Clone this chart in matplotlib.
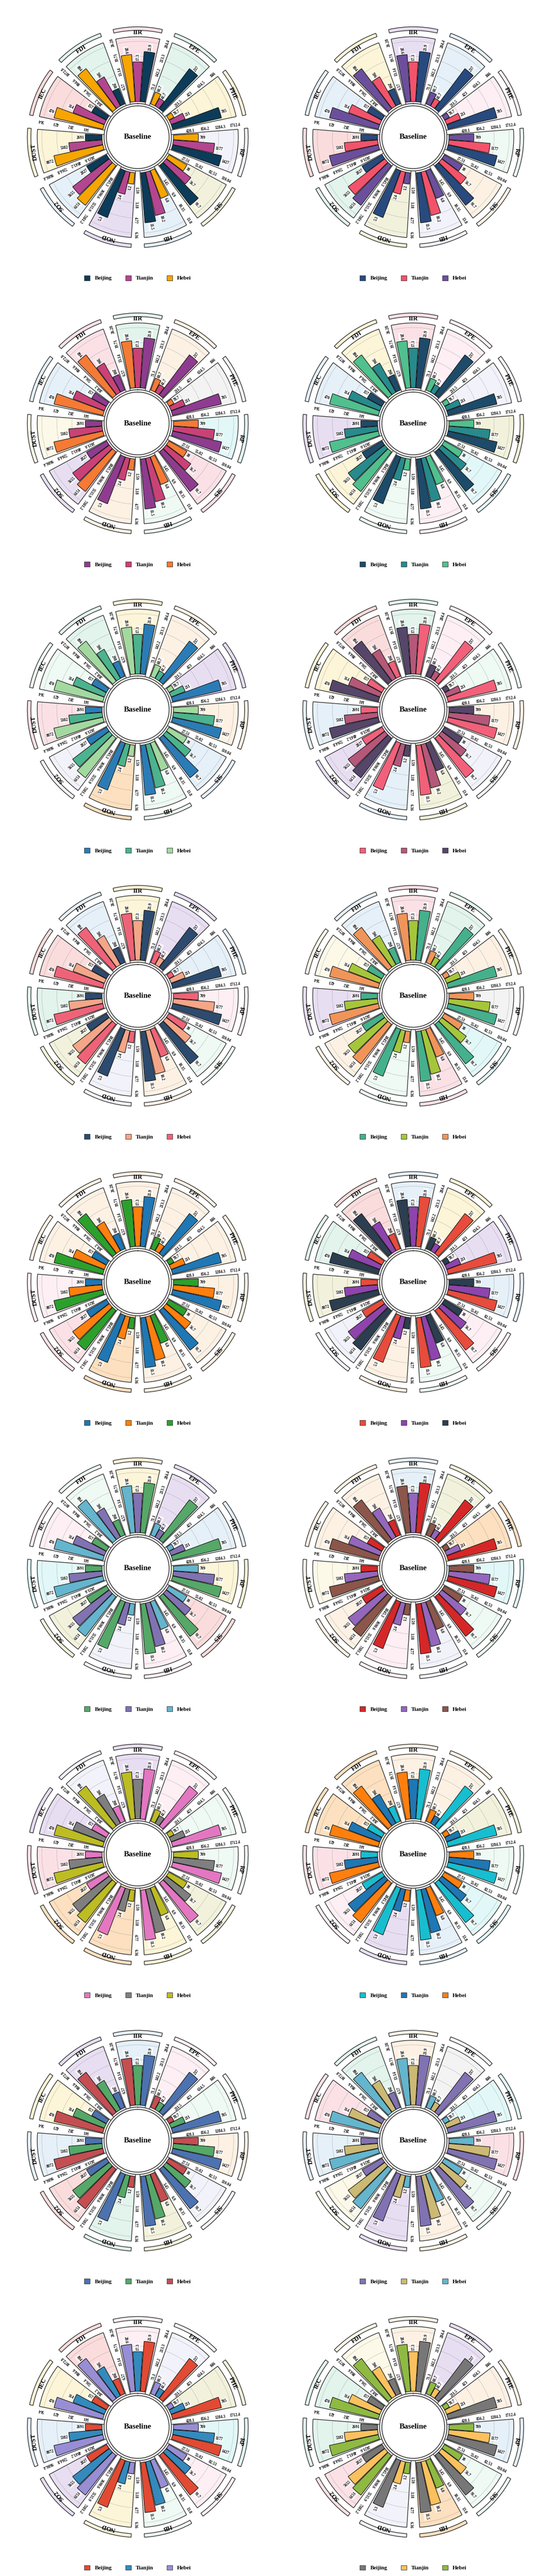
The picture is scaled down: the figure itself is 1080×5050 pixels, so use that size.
import numpy as np
import matplotlib
matplotlib.use("Agg")
import matplotlib.pyplot as plt
from matplotlib.patches import Patch

# ---------------- data ----------------
categories = ["IIR", "EPE", "PHE", "RP", "SIS", "HB", "NOD", "SO2", "DUST", "IEC", "FDI"]
series_names = ["Beijing", "Tianjin", "Hebei"]
beijing = [21.9, 237, 705, 1427, 91.7, 11.5, 5.3, 2827, 2691, 157, 298]
tianjin = [17.3, 41.7, 211, 1177, 56.7, 10.2, 2.4, 5655, 5382, 314, 596]
hebei = [20.6, 60.7, 78.7, 709, 38, 6.8, 1.2, 6151, 8072, 470, 894]
center_title = "Baseline"

# ---------------- styles ----------------
palettes = [
    ("#0c3c5a", "#b4468f", "#f7a500"),
    ("#284a7e", "#f2536b", "#6c4f9c"),
    ("#8e3c8f", "#c94277", "#f57a35"),
    ("#1d4b69", "#288a8c", "#50c08e"),
    ("#2b7cb6", "#4cb38e", "#a3d9a0"),
    ("#f2607a", "#b5587a", "#56466a"),
    ("#2d4b6e", "#f4a688", "#ef6378"),
    ("#45b08c", "#a5c63b", "#f0955a"),
    ("#1f77b4", "#ff7f0e", "#2ca02c"),
    ("#e74c3c", "#8e44ad", "#2c3e50"),
    ("#55a868", "#8172b2", "#64b5cd"),
    ("#d62728", "#9467bd", "#8c564b"),
    ("#e377c2", "#7f7f7f", "#bcbd22"),
    ("#17becf", "#1f77b4", "#ff7f0e"),
    ("#4c72b0", "#55a868", "#c44e52"),
    ("#8172b2", "#ccb974", "#64b5cd"),
    ("#e24a33", "#348abd", "#988ed5"),
    ("#777777", "#fbc15e", "#8eba42"),
]

BG = {
    "pink": "#fbe1e6", "pink2": "#fdeff3", "salmon": "#fbdcdc",
    "mint": "#e2f4ec", "mint2": "#eefaf3",
    "yellow": "#fdf5d8", "yellow2": "#fdf9e8",
    "lav": "#e8def2", "lav2": "#f2f2fb",
    "blue": "#e6f0f9", "peach": "#fdf1e4", "orange": "#fde0bf",
    "cyan": "#e2f8f8", "olive": "#f2f2dc", "gray": "#f3f3f3",
}

# order: IIR EPE PHE RP SIS HB NOD SO2 DUST IEC FDI
backgrounds = [
    ["pink", "mint", "yellow", "lav2", "olive", "blue", "lav", "blue", "yellow", "salmon", "mint"],
    ["lav", "blue", "pink2", "mint2", "peach", "lav2", "olive", "mint", "salmon", "blue", "yellow"],
    ["mint", "peach", "gray", "cyan", "pink", "mint2", "peach", "lav", "yellow2", "blue", "pink"],
    ["pink", "pink2", "lav2", "olive", "cyan", "pink2", "mint2", "yellow", "lav", "blue", "yellow"],
    ["yellow", "peach", "lav", "peach", "blue", "mint2", "orange", "lav2", "pink", "mint2", "mint"],
    ["mint", "pink2", "mint2", "peach", "lav2", "olive", "blue", "lav", "blue", "yellow", "salmon"],
    ["yellow", "lav", "blue", "pink2", "mint2", "peach", "lav2", "olive", "mint", "salmon", "blue"],
    ["pink", "mint", "peach", "gray", "cyan", "pink", "mint2", "peach", "lav", "yellow2", "blue"],
    ["peach", "peach", "peach", "peach", "peach", "peach", "orange", "pink", "pink2", "peach", "peach"],
    ["blue", "yellow", "lav", "blue", "pink2", "mint2", "peach", "lav2", "olive", "mint", "salmon"],
    ["yellow", "lav", "blue", "yellow", "salmon", "pink2", "lav2", "olive", "cyan", "pink2", "mint2"],
    ["blue", "olive", "orange", "cyan", "mint2", "lav2", "pink2", "peach", "yellow2", "peach", "peach"],
    ["lav", "pink2", "mint2", "mint2", "olive", "yellow", "orange", "orange", "pink", "lav", "lav2"],
    ["peach", "peach", "olive", "mint2", "cyan", "blue", "lav", "pink2", "pink", "orange", "orange"],
    ["blue", "pink2", "mint2", "peach", "lav2", "olive", "mint", "salmon", "blue", "yellow", "lav"],
    ["peach", "gray", "cyan", "pink", "mint2", "peach", "lav", "yellow2", "blue", "pink", "mint"],
    ["pink2", "lav2", "olive", "cyan", "pink2", "mint2", "yellow", "lav", "blue", "yellow", "salmon"],
    ["peach", "lav", "peach", "blue", "mint2", "orange", "lav2", "pink", "mint", "mint", "yellow2"],
]

plt.rcParams["font.family"] = "serif"
plt.rcParams["font.serif"] = ["Liberation Serif", "DejaVu Serif"]

W, H = 1080, 5050
ROW_H = H / 9.0
R0, K = 70.0, 118.0          # bar base radius, radius per normalised unit
R_SECT = 197.0
R_BAND_IN, R_BAND_OUT = 209.5, 216.5
R_LABEL = 205.0
HALF = 12.7
BAR_STEP, BAR_W = 7.9, 7.3
R_RING1, R_RING2 = 66.0, 61.5
RMAX = 230.0

fig = plt.figure(figsize=(W / 100, H / 100), dpi=100)

n = len(categories)
series_vals = [beijing, tianjin, hebei]
offsets = [BAR_STEP, 0.0, -BAR_STEP]   # clockwise order: Hebei, Tianjin, Beijing


def norm_angle(a):
    return (a + 180.0) % 360.0 - 180.0


for idx in range(18):
    row, col = divmod(idx, 2)
    cx = 0.25 + 0.5 * col
    cy_px = 269 + ROW_H * row
    ax = fig.add_axes([cx - RMAX / W, 1 - (cy_px + RMAX) / H, 2 * RMAX / W, 2 * RMAX / H],
                      projection="polar")
    ax.set_theta_zero_location("N")
    ax.set_theta_direction(-1)
    ax.set_ylim(0, RMAX)
    ax.axis("off")

    cols = palettes[idx]
    bgs = backgrounds[idx]

    for i, cat in enumerate(categories):
        thc_deg = i * 360.0 / n
        thc = np.deg2rad(thc_deg)
        vmax = 1.2 * max(s[i] for s in series_vals)
        bg = BG[bgs[i]]

        # sector background
        ax.bar(thc, R_SECT, width=np.deg2rad(2 * HALF), bottom=0, color=bg,
               edgecolor="#222222", linewidth=0.9, zorder=1)
        # outer band
        ax.bar(thc, R_BAND_OUT - R_BAND_IN, width=np.deg2rad(2 * HALF + 0.4), bottom=R_BAND_IN,
               color=bg, edgecolor="#222222", linewidth=0.9, zorder=1)
        # category label
        ax.text(thc, R_LABEL, cat, rotation=-thc_deg, rotation_mode="anchor",
                ha="center", va="center", fontsize=9, fontweight="bold", zorder=6,
                clip_on=False)

        # dashed grid arcs and tick labels
        tt = np.linspace(thc - np.deg2rad(HALF), thc + np.deg2rad(HALF), 40)
        th_t_deg = thc_deg - 15.0
        for q in range(1, 5):
            r = R0 + K * q / 4.0
            ax.plot(tt, np.full_like(tt, r), ls=(0, (2.5, 2.0)), color="#8c8c8c",
                    lw=0.5, zorder=2)
            tick_val = round(vmax * q / 4.0, 2)
            ax.text(np.deg2rad(th_t_deg), r + 4, f"{tick_val:g}",
                    rotation=norm_angle(90 - th_t_deg), rotation_mode="anchor",
                    ha="center", va="center", fontsize=5.5, fontweight="bold",
                    zorder=6, clip_on=False)

        # bars
        for s_vals, off, c in zip(series_vals, offsets, cols):
            v = s_vals[i]
            h = K * v / vmax
            th_deg = thc_deg + off
            th = np.deg2rad(th_deg)
            ax.bar(th, h, width=np.deg2rad(BAR_W), bottom=R0, color=c,
                   edgecolor="#111111", linewidth=0.8, zorder=3)
            phi = norm_angle(90 - th_deg)
            if abs(phi) > 90.001:
                rot, ha = norm_angle(phi + 180), "right"
            else:
                rot, ha = phi, "left"
            ax.text(th, R0 + h + 2.5, f"{v:g}", rotation=rot, rotation_mode="anchor",
                    ha=ha, va="center", fontsize=5.5, fontweight="bold", zorder=4,
                    bbox=dict(boxstyle="square,pad=0.12", fc="white", ec="none", alpha=0.75),
                    clip_on=False)

    # inner double ring
    tt = np.linspace(0, 2 * np.pi, 361)
    ax.fill(tt, np.full_like(tt, R_RING1), color="white", zorder=5)
    ax.plot(tt, np.full_like(tt, R_RING1), color="#222222", lw=1.0, zorder=6)
    ax.plot(tt, np.full_like(tt, R_RING2), color="#222222", lw=1.0, zorder=6)
    ax.text(0, 0, center_title, ha="center", va="center", fontsize=11,
            fontweight="bold", zorder=7)

    handles = [Patch(facecolor=c, edgecolor="#333333", linewidth=0.6, label=nm)
               for c, nm in zip(cols, series_names)]
    fig.legend(handles=handles, loc="center",
               bbox_to_anchor=(cx, 1 - (545 + ROW_H * row) / H), ncol=3, frameon=False,
               prop={"family": "serif", "weight": "bold", "size": 8},
               handlelength=1.0, handleheight=1.0, handletextpad=0.8, columnspacing=2.4)

fig.savefig("out.png", dpi=100, facecolor="white")
